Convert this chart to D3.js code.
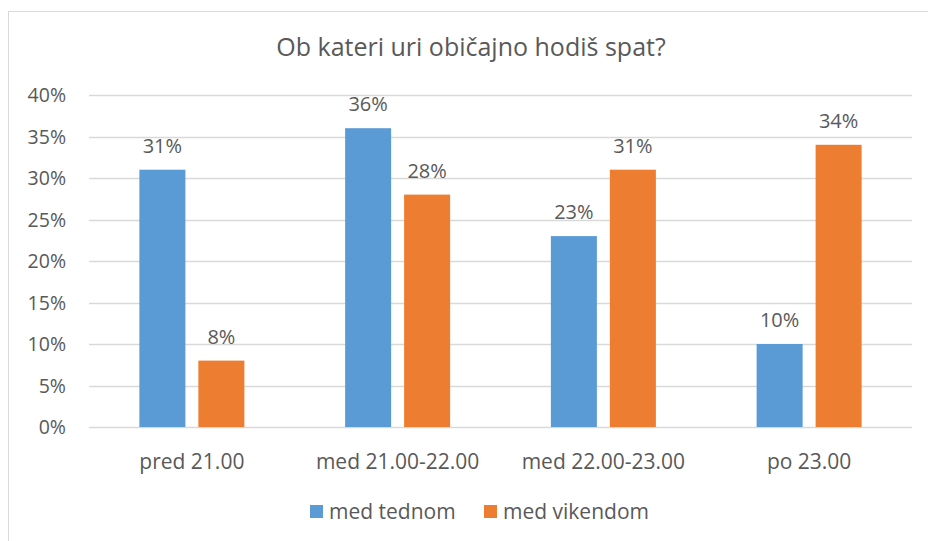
<!DOCTYPE html>
<meta charset="utf-8">
<style>
    body { margin: 0; background: #fff; }
    text { font-family: "Open Sans", sans-serif; fill: #595959; }
</style>
<body>
<script src="https://cdn.jsdelivr.net/npm/d3@7"></script>
<script>

    var categories = ["pred 21.00", "med 21.00-22.00", "med 22.00-23.00", "po 23.00"];
    var seriesNames = ["med tednom", "med vikendom"];
    var tednom = [31, 36, 23, 10];
    var vikendom = [8, 28, 31, 34];
    var yTicks = [0, 5, 10, 15, 20, 25, 30, 35, 40];
    var colors = ["#5B9BD5", "#ED7D31"];

    var width = 928, height = 541;
    var plotLeft = 89, plotRight = 912, plotTop = 95, plotBottom = 427;

    var svg = d3.select("body").append("svg")
        .attr("width", width)
        .attr("height", height);

    // chart border (only left and top visible in the reference)
    svg.append("rect")
        .attr("x", 8.5).attr("y", 11.5)
        .attr("width", 940).attr("height", 560)
        .attr("fill", "none")
        .attr("stroke", "#d9d9d9");

    svg.append("text")
        .attr("x", 471).attr("y", 56)
        .attr("text-anchor", "middle")
        .style("font-size", "25px")
        .text("Ob kateri uri običajno hodiš spat?");

    var x = d3.scaleBand().domain(categories).range([plotLeft, plotRight]);
    var x1 = d3.scaleBand().domain(seriesNames).range([0, 105]).paddingInner(0.22);
    var y = d3.scaleLinear().domain([0, 40]).range([plotBottom, plotTop]);

    // gridlines
    svg.append("g").selectAll("line")
        .data(yTicks)
        .join("line")
        .attr("x1", plotLeft).attr("x2", plotRight)
        .attr("y1", function (d) { return Math.round(y(d)) + 0.5; })
        .attr("y2", function (d) { return Math.round(y(d)) + 0.5; })
        .attr("stroke", "#d9d9d9")
        .attr("stroke-width", 1.3);

    // y tick labels
    svg.append("g").selectAll("text")
        .data(yTicks)
        .join("text")
        .attr("x", 66)
        .attr("y", function (d) { return y(d) + 7; })
        .attr("text-anchor", "end")
        .style("font-size", "19.5px")
        .text(function (d) { return d + "%"; });

    var rows = categories.map(function (c, i) {
        return { cat: c, values: [tednom[i], vikendom[i]] };
    });

    var groups = svg.append("g").selectAll("g")
        .data(rows)
        .join("g")
        .attr("transform", function (d) {
            return "translate(" + (x(d.cat) + x.bandwidth() / 2 - 52.5) + ",0)";
        });

    var bars = groups.selectAll("g")
        .data(function (d) {
            return d.values.map(function (v, j) { return { name: seriesNames[j], value: v, idx: j }; });
        })
        .join("g");

    bars.append("rect")
        .attr("x", function (d) { return x1(d.name); })
        .attr("width", x1.bandwidth())
        .attr("y", function (d) { return y(d.value); })
        .attr("height", function (d) { return plotBottom - y(d.value); })
        .attr("fill", function (d) { return colors[d.idx]; });

    bars.append("text")
        .attr("x", function (d) { return x1(d.name) + x1.bandwidth() / 2; })
        .attr("y", function (d) { return y(d.value) - 17; })
        .attr("text-anchor", "middle")
        .style("font-size", "20px")
        .text(function (d) { return d.value + "%"; });

    // category labels
    svg.append("g").selectAll("text")
        .data(categories)
        .join("text")
        .attr("x", function (d) { return x(d) + x.bandwidth() / 2; })
        .attr("y", 469)
        .attr("text-anchor", "middle")
        .style("font-size", "21px")
        .text(function (d) { return d; });

    // legend
    var legendX = [310, 484];
    var legend = svg.append("g").selectAll("g")
        .data(seriesNames)
        .join("g")
        .attr("transform", function (d, i) { return "translate(" + legendX[i] + ",505)"; });

    legend.append("rect")
        .attr("width", 13).attr("height", 13)
        .attr("fill", function (d, i) { return colors[i]; });

    legend.append("text")
        .attr("x", 19).attr("y", 14)
        .style("font-size", "21px")
        .text(function (d) { return d; });

</script>
</body>
